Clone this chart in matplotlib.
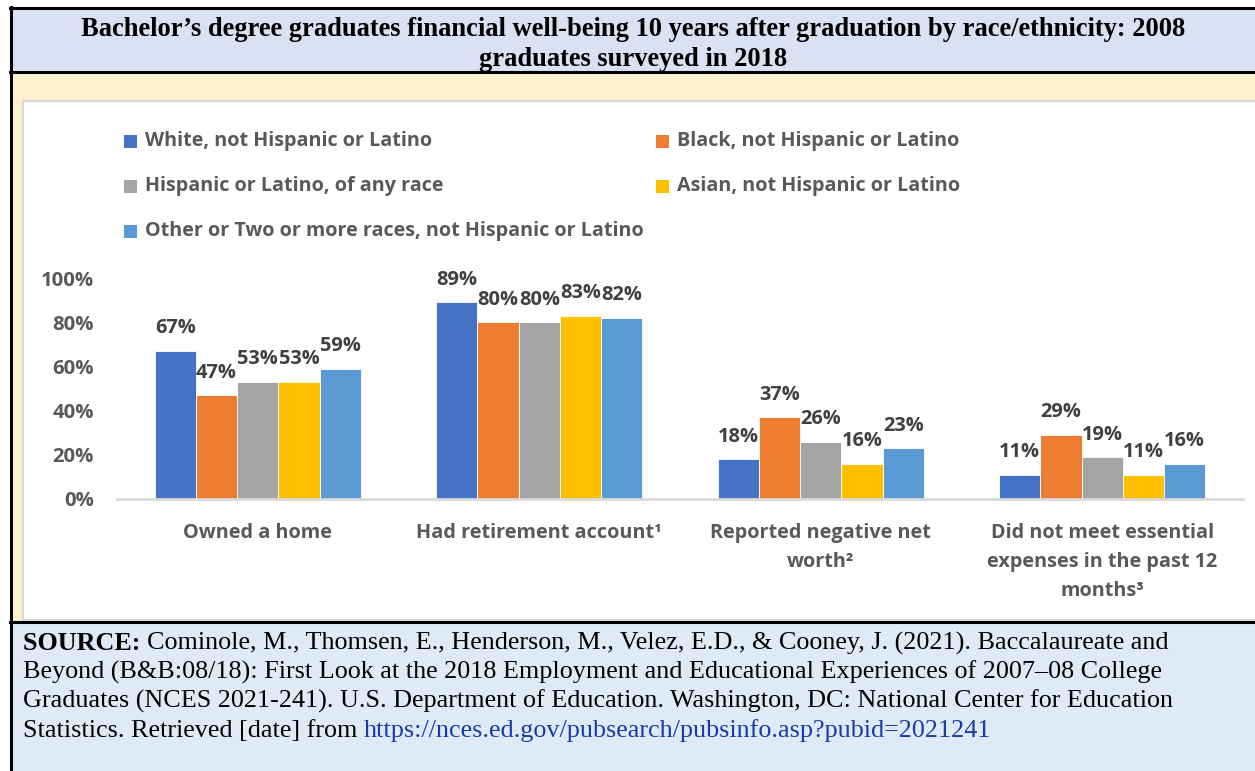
import matplotlib.pyplot as plt
from matplotlib.patches import Rectangle
import numpy as np

categories = ["Owned a home", "Had retirement account\u00b9",
              "Reported negative net\nworth\u00b2",
              "Did not meet essential\nexpenses in the past 12\nmonths\u00b3"]
series = ["White, not Hispanic or Latino", "Black, not Hispanic or Latino",
          "Hispanic or Latino, of any race", "Asian, not Hispanic or Latino",
          "Other or Two or more races, not Hispanic or Latino"]
white = [67, 89, 18, 11]
black = [47, 80, 37, 29]
hispanic = [53, 80, 26, 19]
asian = [53, 83, 16, 11]
other = [59, 82, 23, 16]
values = [white, black, hispanic, asian, other]
colors = ["#4472c4", "#ed7d31", "#a5a5a5", "#ffc000", "#5b9bd5"]
yticks = [0, 20, 40, 60, 80, 100]

title_lines = ["Bachelor\u2019s degree graduates financial well-being 10 years after graduation by race/ethnicity: 2008",
               "graduates surveyed in 2018"]
source_lines = [
    "Cominole, M., Thomsen, E., Henderson, M., Velez, E.D., & Cooney, J. (2021). Baccalaureate and",
    "Beyond (B&B:08/18): First Look at the 2018 Employment and Educational Experiences of 2007\u201308 College",
    "Graduates (NCES 2021-241). U.S. Department of Education. Washington, DC: National Center for Education",
    "Statistics. Retrieved [date] from ",
]
url = "https://nces.ed.gov/pubsearch/pubsinfo.asp?pubid=2021241"

W, H = 1255, 771
fig = plt.figure(figsize=(W / 100, H / 100), dpi=100)
sans = "Open Sans"
serif = "Liberation Serif"
grey = "#595959"


def fx(x):
    return x / W


def fy(y):
    return 1 - y / H


def box(x0, y0, x1, y1, **kw):
    fig.add_artist(Rectangle((fx(x0), fy(y1)), fx(x1) - fx(x0), fy(y0) - fy(y1),
                             transform=fig.transFigure, zorder=0, **kw))


# table-like frame: title row, chart row, source row
box(10, 7, 1260, 72, facecolor="#d9e2f3", edgecolor="none")
box(10, 72, 1260, 622, facecolor="#fff2cc", edgecolor="none")
box(23, 101, 1262, 620, facecolor="white", edgecolor="#d9d9d9", linewidth=1.5)
box(10, 623, 1260, 775, facecolor="#deebf7", edgecolor="none")
for y in (8, 71.5, 622):
    fig.add_artist(plt.Line2D([fx(10), 1], [fy(y), fy(y)], color="black", lw=2.2,
                              transform=fig.transFigure))
fig.add_artist(plt.Line2D([fx(11), fx(11)], [0, fy(7)], color="black", lw=2.2,
                          transform=fig.transFigure))

for k, line in enumerate(title_lines):
    fig.text(fx(633), fy(36 + 30.5 * k), line, ha="center", va="baseline", fontsize=19.1,
             fontweight="bold", family=serif)

# legend, row-wise in two columns
leg_pos = [(124, 141), (656, 141), (124, 186), (656, 186), (124, 231)]
for (lx, ly), name, c in zip(leg_pos, series, colors):
    box(lx, ly - 6.5, lx + 13, ly + 6.5, facecolor=c, edgecolor="none")
    fig.text(fx(lx + 21), fy(ly), name, ha="left", va="center", fontsize=14.2,
             fontweight="bold", family=sans, color=grey)

# bar chart
ax = fig.add_axes([fx(117), fy(499), fx(1243) - fx(117), fy(278) - fy(499)])
ax.set_zorder(2)
x = np.arange(len(categories))
bw = 0.1465
for i, (vals, c) in enumerate(zip(values, colors)):
    pos = x + (i - 2) * bw
    bars = ax.bar(pos, vals, bw, color=c, edgecolor="white", linewidth=0.6, zorder=2)
    for b, v in zip(bars, vals):
        ax.annotate(f"{v}%", (b.get_x() + b.get_width() / 2, v), xytext=(0, 9),
                    textcoords="offset points", ha="center", va="bottom",
                    fontsize=14.4, fontweight="bold", family=sans, color="#404040")

ax.set_xlim(-0.5, len(categories) - 0.5)
ax.set_ylim(0, 100)
ax.set_yticks(yticks)
ax.set_yticklabels([f"{t}%" for t in yticks])
ax.tick_params(axis="y", length=0, pad=16.5, labelsize=14.6, labelcolor=grey)
ax.tick_params(axis="x", length=0, labelbottom=False)
for lab in ax.get_yticklabels():
    lab.set_fontweight("bold")
    lab.set_family(sans)
for s in ("top", "right", "left"):
    ax.spines[s].set_visible(False)
ax.spines["bottom"].set_color("#d9d9d9")
ax.spines["bottom"].set_linewidth(2)
ax.patch.set_alpha(0)

# category names under each group, one line at a time
for i, cat in enumerate(categories):
    for k, part in enumerate(cat.split("\n")):
        fig.text(ax.transData.transform((i, 0))[0] / W, fy(538 + 29 * k), part,
                 ha="center", va="baseline", fontsize=14.3, fontweight="bold",
                 family=sans, color=grey)

# source note
base = 650
first = fig.text(fx(23), fy(base), "SOURCE: ", ha="left", va="baseline", fontsize=18.8,
                 fontweight="bold", family=serif)
fig.canvas.draw()
bb = first.get_window_extent()
fig.text(bb.x1 / W, fy(base), source_lines[0], ha="left", va="baseline",
         fontsize=18.8, family=serif)
for k, line in enumerate(source_lines[1:], start=1):
    t = fig.text(fx(23), fy(base + 29 * k), line, ha="left", va="baseline",
                 fontsize=18.8, family=serif)
fig.canvas.draw()
bb = t.get_window_extent()
fig.text(bb.x1 / W, fy(base + 29 * 3), url, ha="left", va="baseline", fontsize=18.8,
         family=serif, color="#1a3aa8")

fig.savefig("out.png", dpi=100)
